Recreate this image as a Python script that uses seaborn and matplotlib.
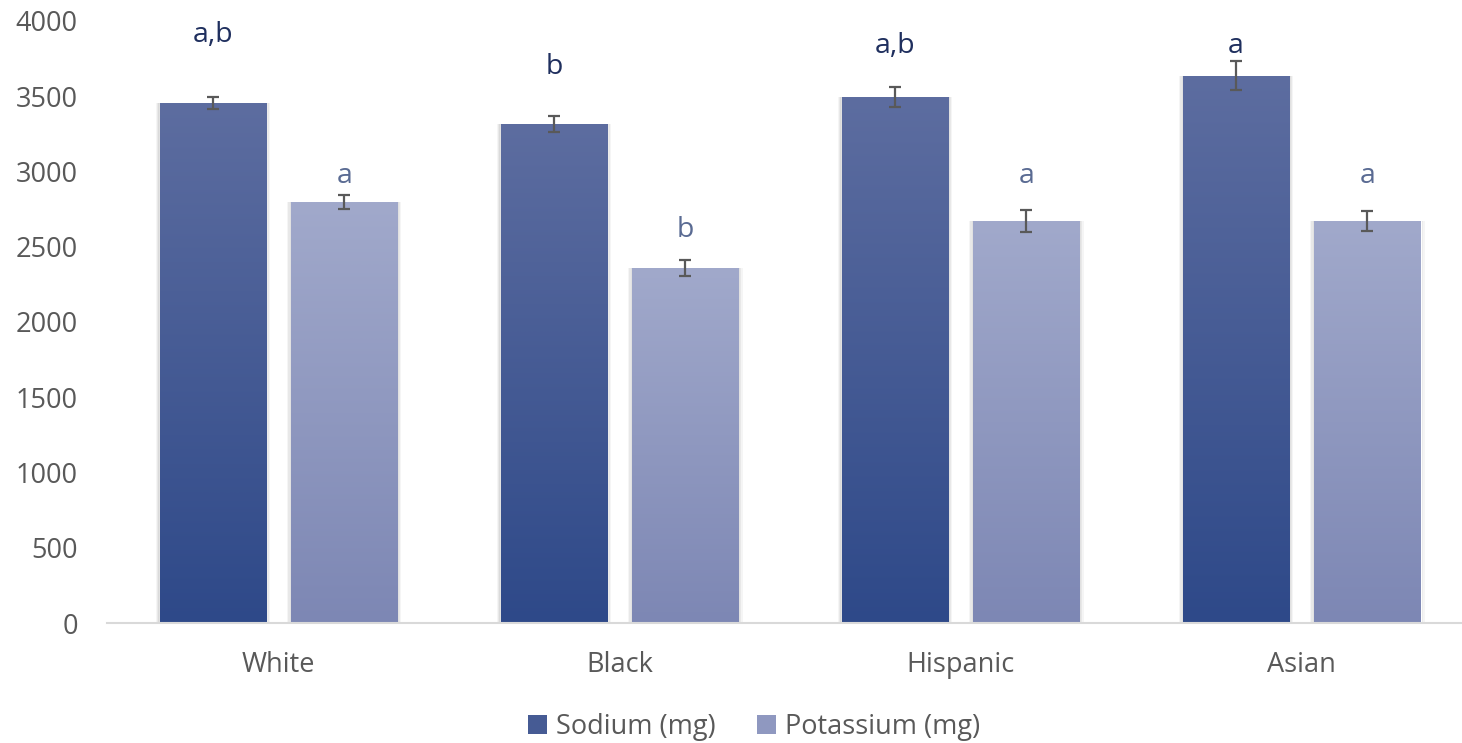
import numpy as np
import pandas as pd
import matplotlib
matplotlib.use("Agg")
import matplotlib.pyplot as plt
from matplotlib.colors import to_rgb
from matplotlib.patches import Patch
import seaborn as sns

groups = ["White", "Black", "Hispanic", "Asian"]
nutrients = ["Sodium (mg)", "Potassium (mg)"]
sodium = [3455, 3316, 3495, 3635]
potassium = [2797, 2359, 2671, 2671]
sodium_err = [42, 52, 69, 96]
potassium_err = [46, 52, 70, 66]
sodium_letters = ["a,b", "b", "a,b", "a"]
potassium_letters = ["a", "b", "a", "a"]
sodium_letter_y = [3907, 3694, 3834, 3834]
potassium_letter_y = [2970, 2611, 2970, 2970]

df = pd.DataFrame({
    "group": groups * 2,
    "nutrient": [nutrients[0]] * 4 + [nutrients[1]] * 4,
    "value": sodium + potassium,
})

# top / bottom colours of the vertical gradient fill for each series
grad = {
    nutrients[0]: ("#5D6DA0", "#2E4989"),
    nutrients[1]: ("#A1A9CB", "#7D87B4"),
}
mid = {k: tuple((np.array(to_rgb(a)) + np.array(to_rgb(b))) / 2) for k, (a, b) in grad.items()}

sns.set_theme(style="white")
plt.rcParams["font.family"] = ["Open Sans", "DejaVu Sans"]

fig = plt.figure(figsize=(14.62, 7.43), dpi=100)
ax = fig.add_axes([107 / 1462, 120 / 743, 1355 / 1462, 602 / 743])

sns.barplot(data=df, x="group", y="value", hue="nutrient", order=groups,
            hue_order=nutrients, palette=mid, width=0.77, gap=0.19,
            errorbar=None, legend=False, ax=ax)
bar_sets = [list(c.patches) for c in ax.containers]

xlim = (-0.503, 3.47)
ylim = (0, 4000)

errs = [sodium_err, potassium_err]
for k, bars in enumerate(bar_sets):
    top, bot = (np.array(to_rgb(c)) for c in grad[nutrients[k]])
    t = np.linspace(0, 1, 256)[:, None, None]
    for j, bar in enumerate(bars):
        x0, y0 = bar.get_x(), bar.get_y()
        w, h = bar.get_width(), bar.get_height()
        img = bot + (top - bot) * t
        im = ax.imshow(img, extent=[x0, x0 + w, y0, y0 + h], origin="lower",
                       aspect="auto", zorder=bar.get_zorder() + 0.1,
                       interpolation="bilinear")
        im.set_clip_path(bar)
        # soft shadow around the bar
        for s, a in [(0.012, 0.04), (0.008, 0.05), (0.004, 0.06)]:
            ax.add_patch(plt.Rectangle((x0 - s, y0), w + 2 * s, h + s * 150,
                                       color="black", alpha=a, lw=0,
                                       zorder=bar.get_zorder() - 0.5))
        ax.errorbar(x0 + w / 2, h, yerr=errs[k][j], color="#595959",
                    elinewidth=1.6, capsize=4.5, capthick=1.6, zorder=5)

for j, bar in enumerate(bar_sets[0]):
    ax.text(bar.get_x() + bar.get_width() / 2, sodium_letter_y[j], sodium_letters[j],
            ha="center", va="center", fontsize=20.5, color="#1F2F5E")
for j, bar in enumerate(bar_sets[1]):
    ax.text(bar.get_x() + bar.get_width() / 2, potassium_letter_y[j], potassium_letters[j],
            ha="center", va="center", fontsize=20.5, color="#5A6B93")

ax.set_xlim(*xlim)
ax.set_ylim(*ylim)
ax.set_yticks(range(0, 4001, 500))
ax.set_xlabel("")
ax.set_ylabel("")
ax.tick_params(axis="y", length=0, pad=21, labelsize=19.5, labelcolor="#595959")
ax.tick_params(axis="x", length=0, pad=20, labelsize=19.5, labelcolor="#595959")
for side in ["top", "right", "left"]:
    ax.spines[side].set_visible(False)
ax.spines["bottom"].set_color("#D9D9D9")
ax.spines["bottom"].set_linewidth(1.5)
ax.spines["bottom"].set_zorder(6)
ax.grid(False)

handles = [Patch(facecolor=mid[n], edgecolor="none") for n in nutrients]
fig.legend(handles, nutrients, loc="center", bbox_to_anchor=(754 / 1462, 1 - 727 / 743),
           ncol=2, frameon=False, fontsize=19.5, labelcolor="#595959",
           handlelength=0.7, handleheight=0.7, handletextpad=0.35, columnspacing=1.5)

fig.savefig("out.png", dpi=100)
